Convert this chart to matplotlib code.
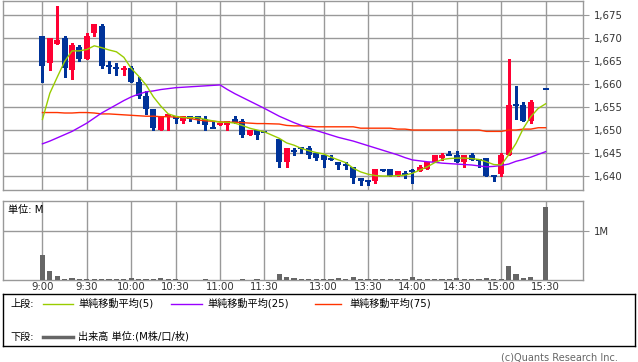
import numpy as np
import matplotlib
matplotlib.use('Agg')
import matplotlib.pyplot as plt
from matplotlib.ticker import FuncFormatter

plt.rcParams['font.family'] = ['DejaVu Sans', 'Noto Sans CJK JP']

# ---- categories (5-minute bars) ----
am_times = ['9:00', '9:05', '9:10', '9:15', '9:20', '9:25', '9:30', '9:35', '9:40', '9:45', '9:50', '9:55',
            '10:00', '10:05', '10:10', '10:15', '10:20', '10:25', '10:30', '10:35', '10:40', '10:45', '10:50', '10:55',
            '11:00', '11:05', '11:10', '11:15', '11:20', '11:25', '11:30']
pm_times = ['12:30', '12:35', '12:40', '12:45', '12:50', '12:55',
            '13:00', '13:05', '13:10', '13:15', '13:20', '13:25', '13:30', '13:35', '13:40', '13:45', '13:50', '13:55',
            '14:00', '14:05', '14:10', '14:15', '14:20', '14:25', '14:30', '14:35', '14:40', '14:45', '14:50', '14:55',
            '15:00', '15:05', '15:10', '15:15', '15:20', '15:25', '15:30']
tick_labels = ['9:00', '9:30', '10:00', '10:30', '11:00', '11:30', '13:00', '13:30', '14:00', '14:30', '15:00', '15:30']

nan = np.nan
opens = [1670.5, 1664.5, 1668.8, 1670, 1663, 1668, 1665.5, 1671, 1672.5, 1664, 1663.5, 1663,
         1663.5, 1660.5, 1657.5, 1654.5, 1650, 1653, 1653, 1652, 1653, 1653, 1652.5, 1650.5,
         1651, 1651, 1652.5, 1652, 1649, 1650, 1649.5,
         1648, 1643, 1645.5, 1646, 1646, 1645,
         1644.5, 1644, 1643, 1642.5, 1642, 1639.5, 1639, 1639, 1641.5, 1641.5, 1640, 1640.5,
         1641, 1641, 1641.5, 1643, 1644, 1644.5, 1644.5, 1643, 1644.5, 1643.5, 1644, 1640,
         1640.5, 1644.5, 1655.5, 1655.5, 1652, nan, 1659]
highs = [1670.5, 1670, 1677, 1670.5, 1669, 1668.5, 1671, 1673, 1673, 1665, 1664.5, 1664,
         1664, 1661.5, 1658.5, 1654.5, 1653, 1653.5, 1653, 1653, 1653, 1653, 1653, 1652,
         1651.5, 1652, 1653, 1652.5, 1650, 1650, 1649.5,
         1648, 1646, 1646, 1646, 1646.5, 1645,
         1644.5, 1644.5, 1643, 1643, 1642, 1639.5, 1639, 1641.5, 1641.5, 1641.5, 1641, 1641,
         1641.5, 1642.5, 1643, 1644.5, 1645, 1645.5, 1645.5, 1644.5, 1645, 1643.5, 1644, 1640,
         1645, 1665.5, 1659.5, 1656, 1656.5, nan, 1659]
lows = [1660.5, 1663, 1668.8, 1661.5, 1661, 1665, 1665.5, 1670.5, 1663.5, 1662.5, 1662, 1662,
        1660.5, 1657, 1653.5, 1650, 1650, 1650, 1651.5, 1651.5, 1652, 1651.5, 1650, 1650.5,
        1651, 1650, 1651.5, 1648.5, 1649, 1648, 1649.5,
        1642, 1642, 1644.5, 1645, 1644, 1643.5,
        1642, 1643.5, 1641.5, 1641.5, 1638.5, 1638, 1638, 1638.5, 1641, 1640, 1640, 1639.5,
        1638.5, 1641, 1641.5, 1643, 1643.5, 1644.5, 1643, 1642, 1643.5, 1642, 1640, 1639,
        1640, 1644.5, 1652.5, 1652, 1651.5, nan, 1659]
closes = [1664, 1670, 1669.6, 1663.5, 1668.5, 1665.5, 1670.5, 1673, 1664, 1664, 1663.5, 1663.5,
          1660.5, 1657.5, 1654.5, 1650.5, 1653, 1653.5, 1652.5, 1653, 1652.5, 1652.5, 1651, 1650.5,
          1651.5, 1652, 1651.5, 1649, 1650, 1649, 1649.5,
          1643, 1646, 1645.5, 1646, 1644.5, 1644,
          1643.5, 1643.5, 1642.5, 1642.5, 1639.5, 1639, 1639, 1641.5, 1641, 1640, 1641, 1640.5,
          1641, 1642, 1643, 1644.5, 1644.5, 1644.5, 1643, 1644.5, 1643.5, 1643.5, 1640, 1640,
          1644.5, 1655.5, 1655.5, 1652, 1656, nan, 1659]

ma5 = [1652.3, 1658.0, 1661.5, 1664.9, 1667.2, 1667.2, 1667.5, 1668.3, 1667.9, 1667.4, 1667.0, 1665.8,
       1663.4, 1661.7, 1659.8, 1657.2, 1655.2, 1653.5, 1653.0, 1652.7, 1652.7, 1652.7, 1652.3, 1652.0,
       1651.7, 1651.7, 1651.5, 1651.0, 1650.4, 1650.0, 1649.6,
       1648.2, 1647.2, 1646.7, 1646.0, 1645.5, 1645.1,
       1644.8, 1644.1, 1643.5, 1642.9, 1641.7, 1640.9, 1640.4, 1640.1, 1640.0, 1640.0, 1640.1, 1640.2,
       1640.6, 1641.3, 1642.0, 1642.9, 1643.6, 1643.8, 1643.9, 1643.9, 1643.8, 1643.6, 1643.1, 1642.5,
       1642.4, 1644.6, 1647.1, 1650.4, 1652.9, 1654.7, 1655.7]
ma25 = [1647.0, 1647.6, 1648.3, 1649.0, 1649.7, 1650.6, 1651.5, 1652.6, 1653.7, 1654.6, 1655.5, 1656.4,
        1657.2, 1657.8, 1658.3, 1658.5, 1658.8, 1659.0, 1659.2, 1659.3, 1659.4, 1659.5, 1659.6, 1659.7,
        1659.8, 1658.8, 1657.9, 1657.1, 1656.3, 1655.5, 1654.7,
        1653.0, 1652.3, 1651.6, 1651.0, 1650.4, 1649.9,
        1649.4, 1648.9, 1648.4, 1648.0, 1647.6, 1647.1, 1646.6, 1646.1, 1645.6, 1645.1, 1644.6, 1644.0,
        1643.5, 1643.3, 1643.1, 1643.0, 1642.8, 1642.7, 1642.6, 1642.5, 1642.4, 1642.2, 1642.0, 1642.1,
        1642.3, 1642.6, 1643.2, 1643.6, 1644.1, 1644.7, 1645.3]
ma75 = [1653.8, 1653.8, 1653.8, 1653.7, 1653.7, 1653.8, 1653.8, 1653.7, 1653.5, 1653.5, 1653.4, 1653.3,
        1653.2, 1653.1, 1653.0, 1653.0, 1652.9, 1652.9, 1652.8, 1652.8, 1652.5, 1652.2, 1652.0, 1651.9,
        1651.8, 1651.7, 1651.7, 1651.6, 1651.5, 1651.4, 1651.4,
        1651.3, 1651.0, 1650.9, 1650.9, 1650.8, 1650.7,
        1650.7, 1650.7, 1650.7, 1650.7, 1650.7, 1650.4, 1650.4, 1650.4, 1650.4, 1650.4, 1650.2, 1650.2,
        1650.0, 1650.0, 1650.0, 1650.0, 1650.0, 1650.0, 1650.0, 1650.0, 1650.0, 1650.0, 1649.7, 1649.7,
        1649.7, 1650.0, 1650.0, 1650.2, 1650.2, 1650.5, 1650.5]
volume_m = [0.51, 0.18, 0.088, 0.02, 0.04, 0.02, 0.015, 0.015, 0.015, 0.015, 0.015, 0.015,
            0.04, 0.02, 0.015, 0.015, 0.04, 0.02, 0.015, 0.01, 0.01, 0.01, 0.02, 0.01,
            0.01, 0.01, 0.01, 0.02, 0.01, 0.02, 0.01,
            0.12, 0.065, 0.04, 0.02, 0.02, 0.02,
            0.02, 0.02, 0.045, 0.02, 0.068, 0.02, 0.02, 0.02, 0.02, 0.015, 0.015, 0.02,
            0.068, 0.02, 0.02, 0.02, 0.015, 0.02, 0.04, 0.02, 0.02, 0.02, 0.04, 0.02,
            0.02, 0.29, 0.12, 0.04, 0.06, 0.0, 1.48]

legend_labels = ['単純移動平均(5)', '単純移動平均(25)', '単純移動平均(75)']
volume_label = '出来高 単位:(M株/口/枚)'

# ---- layout ----
W, H = 638, 362
times = am_times + pm_times
xpos = np.array(list(range(len(am_times))) + list(range(len(am_times) + 1, len(am_times) + 1 + len(pm_times))), dtype=float)
tick_pos = [xpos[times.index(t)] for t in tick_labels]

UP = '#ff0033'
DOWN = '#003399'
GRID = '#999999'
TXT = '#333333'

fig = plt.figure(figsize=(W / 100, H / 100), dpi=100)

def fax(x0, y0, x1, y1):
    return fig.add_axes([x0 / W, 1 - y1 / H, (x1 - x0) / W, (y1 - y0) / H])

ax = fax(3, 0.5, 583, 190.3)
axv = fax(3, 201, 583, 280)

xlim = (-5.33, 73.05)
o = np.array(opens); h = np.array(highs); l = np.array(lows); c = np.array(closes)
valid = ~np.isnan(o)
cols = np.where(c > o, UP, DOWN)
bw = 0.8
for xi, oi, hi, li, ci, col, ok in zip(xpos, o, h, l, c, cols, valid):
    if not ok:
        continue
    ax.vlines(xi, li, hi, color=col, lw=1.0, zorder=3, antialiased=False)
    if abs(ci - oi) < 1e-9:
        ax.hlines(ci, xi - bw / 2, xi + bw / 2, color=col, lw=1.2, zorder=3, antialiased=False)
    else:
        ax.bar(xi, abs(ci - oi), bottom=min(oi, ci), width=bw, color=col, linewidth=0, zorder=3)

ax.plot(xpos, ma75, color='#ff3300', lw=1.0, zorder=4)
ax.plot(xpos, ma25, color='#9900ff', lw=1.0, zorder=4)
ax.plot(xpos, ma5, color='#99cc00', lw=1.0, zorder=4)

ax.set_xlim(*xlim)
ax.set_ylim(1636.9, 1678.15)
ax.set_yticks([1640, 1645, 1650, 1655, 1660, 1665, 1670, 1675])
ax.yaxis.set_major_formatter(FuncFormatter(lambda v, p: f'{v:,.0f}'))
ax.yaxis.tick_right()
ax.set_xticks(tick_pos)
ax.set_xticklabels([])
ax.tick_params(axis='x', length=0)
ax.tick_params(axis='y', length=4, color=GRID, labelsize=7.3, labelcolor=TXT, pad=4)
ax.grid(True, color=GRID, lw=1.0, zorder=0)
ax.set_axisbelow(True)
for s in ax.spines.values():
    s.set_color(GRID)
    s.set_linewidth(1.0)

axv.bar(xpos, volume_m, width=0.7, color='#666666', linewidth=0, zorder=3)
axv.set_xlim(*xlim)
axv.set_ylim(0, 1.6)
axv.set_yticks([1])
axv.set_yticklabels(['1M'])
axv.yaxis.tick_right()
axv.set_xticks(tick_pos)
axv.set_xticklabels(tick_labels)
axv.tick_params(axis='x', length=0, labelsize=7.3, labelcolor=TXT, pad=1.5)
axv.tick_params(axis='y', length=4, color=GRID, labelsize=7.3, labelcolor=TXT, pad=4)
axv.grid(True, color=GRID, lw=1.0, zorder=0)
axv.set_axisbelow(True)
for s in axv.spines.values():
    s.set_color(GRID)
    s.set_linewidth(1.0)
axv.text(5 / 580, 1 - 9 / 79, '単位: M', transform=axv.transAxes, fontsize=7.3, color='#000000',
         ha='left', va='center')

# ---- legend box ----
axl = fax(3, 294.3, 635.3, 346)
axl.set_xlim(3, 635.3)
axl.set_ylim(346, 294.3)
axl.set_xticks([]); axl.set_yticks([])
for s in axl.spines.values():
    s.set_color('#000000'); s.set_linewidth(1.0)
r1, r2 = 303.5, 336.7
axl.text(10, r1, '上段:', fontsize=7.3, va='center', ha='left', color='#000')
axl.text(10, r2, '下段:', fontsize=7.3, va='center', ha='left', color='#000')
for (x0, x1, tx), col, lab in zip([(43, 73, 78), (171, 202, 207), (315, 341, 349)],
                                   ['#99cc00', '#9900ff', '#ff3300'], legend_labels):
    axl.plot([x0, x1], [r1, r1], color=col, lw=1.0)
    axl.text(tx, r1, lab, fontsize=7.3, va='center', ha='left', color='#000')
axl.plot([43, 73], [r2, r2], color='#666666', lw=2.5)
axl.text(78, r2, volume_label, fontsize=7.3, va='center', ha='left', color='#000')

fig.text(618 / W, 1 - 357 / H, '(c)Quants Research Inc.', fontsize=7.0, color='#666666',
         ha='right', va='center')

fig.savefig('out.png', dpi=100, facecolor='white')
